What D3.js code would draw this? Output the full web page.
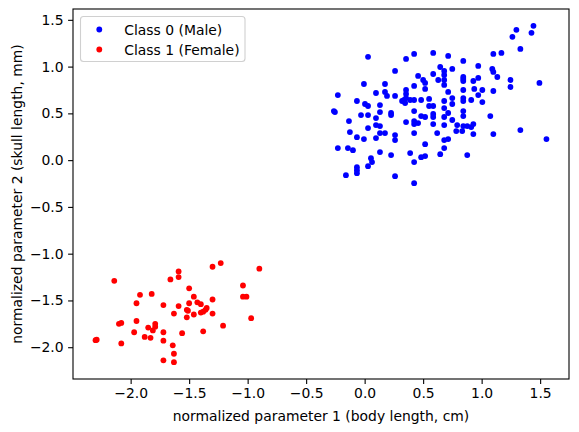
<!DOCTYPE html>
<html>
<head>
<meta charset="utf-8">
<script src="https://cdn.jsdelivr.net/npm/d3@7"></script>
<style>
  body { margin: 0; background: #fff; }
  text { font-family: "DejaVu Sans", sans-serif; }
</style>
</head>
<body>
<div id="chart"></div>
<script>
// class 0 (male) points: [param1, param2]
var maleX = [0.029, 0.354, 0.423, 0.586, 0.714, 0.26, 0.646, 0.68, 0.68, 0.68, 0.68, 0.629, 0.586, 0.457, 0.5,
  0.517, 0.423, 0.517, -0.006, 0.174, 0.174, 0.097, 0.191, 0.26, 0.354, 0.354, 0.354, 0.32, 0.346, 0.337,
  0.389, 0.423, 0.483, 0.551, 0.551, 0.586, 0.68, 0.714, -0.229, -0.066, 0.003, 0.029, 0.131, -0.263, -0.254,
  -0.031, 0.029, 0.131, 0.226, 0.226, 0.423, 0.483, 0.517, 0.586, 0.586, 0.68, 0.714, 0.097, -0.134, 0.354,
  0.423, 0.457, 0.423, 0.097, 0.131, 0.586, 0.68, 0.029, -0.126, 0.131, 0.174, 0.423, 0.62, -0.066, -0.006,
  0.097, 0.26, 0.26, 0.68, 0.517, -0.229, -0.143, -0.1, 0.131, 0.226, 0.389, 0.483, 0.517, 0.646, 0.68,
  0.054, 0.063, 0.423, 0.029, -0.066, -0.066, -0.066, -0.16, 0.26, 0.423,
  1.443, 1.297, 1.426, 1.263, 1.331, 0.843, 1.1, 1.169, 0.749, 0.971, 1.091, 1.1, 1.134, 0.843, 0.843,
  0.843, 0.929, 0.971, 1.246, 1.246, 1.494, 0.937, 1.006, 1.1, 0.843, 0.971, 0.749, 0.843, 0.843, 0.911,
  1.006, 0.749, 0.68, 0.843, 0.843, 1.074, 0.749, 0.791, 0.843, 0.877, 0.911, 0.929, 0.783, 0.834, 0.929,
  1.1, 1.331, 1.554, 0.714, 0.877]
var maleY = [1.104, 1.082, 1.136, 1.146, 1.114, 0.954, 0.996, 0.954, 0.911, 0.857, 0.804, 0.857, 0.921, 0.9, 0.857,
  0.825, 0.793, 0.761, 0.814, 0.814, 0.729, 0.718, 0.686, 0.686, 0.75, 0.707, 0.664, 0.632, 0.611, 0.643,
  0.643, 0.643, 0.643, 0.654, 0.579, 0.579, 0.632, 0.729, 0.696, 0.632, 0.6, 0.579, 0.589, 0.525, 0.514,
  0.482, 0.482, 0.514, 0.504, 0.482, 0.525, 0.471, 0.461, 0.493, 0.461, 0.461, 0.504, 0.45, 0.418, 0.407,
  0.418, 0.396, 0.386, 0.375, 0.364, 0.386, 0.375, 0.343, 0.3, 0.289, 0.289, 0.289, 0.289, 0.246, 0.225,
  0.236, 0.268, 0.214, 0.214, 0.171, 0.129, 0.129, 0.107, 0.086, 0.054, 0.075, 0.032, 0.043, 0.064, 0.129,
  0.021, -0.021, -0.021, -0.064, -0.075, -0.107, -0.139, -0.161, -0.171, -0.246,
  1.436, 1.393, 1.361, 1.318, 1.189, 1.061, 1.136, 1.146, 0.975, 1.007, 0.975, 0.943, 0.889, 0.889, 0.868,
  0.846, 0.846, 0.879, 0.857, 0.782, 0.825, 0.761, 0.75, 0.739, 0.75, 0.696, 0.664, 0.664, 0.632, 0.643,
  0.621, 0.6, 0.557, 0.525, 0.471, 0.471, 0.429, 0.375, 0.364, 0.364, 0.354, 0.386, 0.311, 0.311, 0.279,
  0.279, 0.321, 0.225, 0.225, 0.054]

// class 1 (female) points
var femaleX = [-2.30, -2.29, -2.14, -2.10, -2.08, -2.08, -1.95, -1.95, -1.92, -1.97, -1.88, -1.85, -1.83, -1.82,
  -1.81, -1.79, -1.79, -1.72, -1.72, -1.72, -1.72, -1.66, -1.64, -1.63, -1.63, -1.63, -1.59, -1.59, -1.59,
  -1.56, -1.52, -1.52, -1.51, -1.50, -1.50, -1.46, -1.46, -1.43, -1.40, -1.40, -1.38, -1.38, -1.36, -1.35,
  -1.30, -1.30, -1.30, -1.23, -1.21, -1.04, -1.04, -1.01, -0.97, -0.90]
var femaleY = [-1.925, -1.92, -1.29, -1.75, -1.74, -1.96, -1.53, -1.72, -1.44, -1.84, -1.89, -1.79, -1.90, -1.43,
  -1.82, -1.75, -1.78, -1.55, -1.84, -1.93, -2.14, -1.275, -1.98, -2.07, -2.16, -1.64, -1.19, -1.25, -1.56,
  -1.85, -1.68, -1.60, -1.61, -1.37, -1.53, -1.46, -1.65, -1.52, -1.54, -1.63, -1.62, -1.83, -1.60, -1.58,
  -1.14, -1.49, -1.64, -1.10, -1.77, -1.34, -1.46, -1.46, -1.69, -1.16]

var seriesNames = ['Class 0 (Male)', 'Class 1 (Female)']
var seriesColors = ['#0000ff', '#ff0000']
var xTicks = [-2.0, -1.5, -1.0, -0.5, 0.0, 0.5, 1.0, 1.5]
var yTicks = [-2.0, -1.5, -1.0, -0.5, 0.0, 0.5, 1.0, 1.5]

var width = 579
var height = 432
var margin = { left: 73, right: 10, top: 9, bottom: 53 }
var fs = 13.9

var series = [
  maleX.map(function (v, i) { return [v, maleY[i]] }),
  femaleX.map(function (v, i) { return [v, femaleY[i]] })
]

var allX = maleX.concat(femaleX)
var allY = maleY.concat(femaleY)
function padded(ext) {
  var p = (ext[1] - ext[0]) * 0.05
  return [ext[0] - p, ext[1] + p]
}

var x = d3.scaleLinear().domain(padded(d3.extent(allX))).range([margin.left, width - margin.right])
var y = d3.scaleLinear().domain(padded(d3.extent(allY))).range([height - margin.bottom, margin.top])

var svg = d3.select('#chart').append('svg').attr('width', width).attr('height', height)

var fmt = function (d) { return d3.format('.1f')(d).replace('-', '\u2212') }

var xAxis = svg.append('g')
  .attr('transform', 'translate(0,' + (height - margin.bottom) + ')')
  .call(d3.axisBottom(x).tickValues(xTicks).tickFormat(fmt).tickSizeOuter(0).tickSize(4.9).tickPadding(4.5))
var yAxis = svg.append('g')
  .attr('transform', 'translate(' + margin.left + ',0)')
  .call(d3.axisLeft(y).tickValues(yTicks).tickFormat(fmt).tickSizeOuter(0).tickSize(4.9).tickPadding(4.5))
;[xAxis, yAxis].forEach(function (a) {
  a.select('.domain').remove()
  a.selectAll('text').attr('font-size', fs).attr('fill', '#000').style('font-family', 'DejaVu Sans')
  a.selectAll('line').attr('stroke', '#000').attr('stroke-width', 1.1)
})

// points
series.forEach(function (pts, k) {
  svg.append('g')
    .selectAll('circle')
    .data(pts)
    .join('circle')
    .attr('cx', function (d) { return x(d[0]) })
    .attr('cy', function (d) { return y(d[1]) })
    .attr('r', 2.9)
    .attr('fill', seriesColors[k])
})

// frame
svg.append('rect')
  .attr('x', margin.left).attr('y', margin.top)
  .attr('width', width - margin.left - margin.right)
  .attr('height', height - margin.top - margin.bottom)
  .attr('fill', 'none').attr('stroke', '#000').attr('stroke-width', 1.1)

// axis labels
svg.append('text')
  .attr('x', (margin.left + width - margin.right) / 2)
  .attr('y', 416)
  .attr('dy', '0.36em')
  .attr('text-anchor', 'middle')
  .attr('font-size', fs)
  .text('normalized parameter 1 (body length, cm)')
svg.append('text')
  .attr('transform', 'translate(17,' + (margin.top + height - margin.bottom) / 2 + ') rotate(-90)')
  .attr('dy', '0.36em')
  .attr('text-anchor', 'middle')
  .attr('font-size', fs)
  .text('normalized parameter 2 (skull length, mm)')

// legend
var lg = svg.append('g')
lg.append('rect')
  .attr('x', 80.5).attr('y', 16.5).attr('width', 164.5).attr('height', 45).attr('rx', 3)
  .attr('fill', '#fff').attr('fill-opacity', 0.8).attr('stroke', '#d0d0d0').attr('stroke-width', 1.1)
seriesNames.forEach(function (name, k) {
  lg.append('circle').attr('cx', 99.3).attr('cy', 29.5 + k * 20).attr('r', 2.9).attr('fill', seriesColors[k])
  lg.append('text').attr('x', 124.3).attr('y', 29.5 + k * 20).attr('dy', '0.36em')
    .attr('font-size', fs).text(name)
})
</script>
</body>
</html>
